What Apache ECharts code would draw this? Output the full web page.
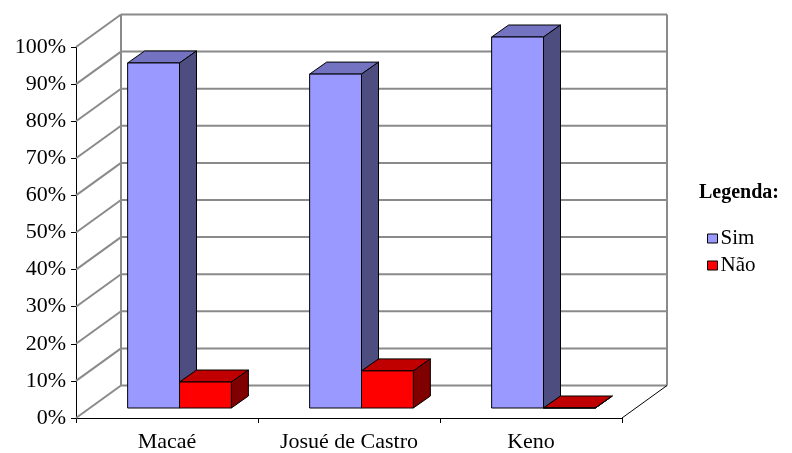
<!DOCTYPE html>
<html>
<head>
<meta charset="utf-8">
<script src="https://cdn.jsdelivr.net/npm/echarts@6/dist/echarts.min.js"></script>
<style>
  html, body { margin: 0; padding: 0; background: #fff; }
  #chart { width: 792px; height: 453px; }
</style>
</head>
<body>
<div id="chart"></div>
<script>
// Survey answers per location (percent)
const categories = ['Macaé', 'Josué de Castro', 'Keno'];
const simValues = [93, 90, 100];
const naoValues = [7, 10, 0];
const yTicks = [0, 10, 20, 30, 40, 50, 60, 70, 80, 90, 100];
const seriesNames = ['Sim', 'Não'];

// Pseudo-3D geometry (pixels)
const WALL_DX = 45, WALL_DY = -32.5;   // depth of floor / side wall
const BAR_DX = 12.5, BAR_DY = -10;     // where the bar fronts sit in depth
const DEPTH_DX = 17, DEPTH_DY = -12;   // bar thickness in depth
const BAR_FRAC = 0.285;                // bar width as share of a category band

const FONT = "'Liberation Serif', 'Times New Roman', serif";

const palette = {
  'Sim': { front: '#9999FF', top: '#7373C2', side: '#4D4D80' },
  'Não': { front: '#FF0000', top: '#C00000', side: '#800000' }
};

const chart = echarts.init(document.getElementById('chart'), null, { renderer: 'canvas' });

function renderWalls(params, api) {
  const cs = params.coordSys;
  const v = api.value(0);
  const y = api.coord([0, v])[1];
  const x0 = cs.x, x1 = cs.x + cs.width;
  const grey = { stroke: '#8a8a8a', lineWidth: 2, fill: null };
  const children = [
    { type: 'line', shape: { x1: x0, y1: y, x2: x0 + WALL_DX, y2: y + WALL_DY }, style: grey },
    { type: 'line', shape: { x1: x0 + WALL_DX, y1: y + WALL_DY, x2: x1 + WALL_DX, y2: y + WALL_DY }, style: grey }
  ];
  if (params.dataIndex === 0) {
    const yTop = api.coord([0, yTicks[yTicks.length - 1]])[1];
    children.push(
      { type: 'line', shape: { x1: x0 + WALL_DX, y1: yTop + WALL_DY, x2: x0 + WALL_DX, y2: y + WALL_DY }, style: grey },
      { type: 'line', shape: { x1: x1 + WALL_DX, y1: yTop + WALL_DY, x2: x1 + WALL_DX, y2: y + WALL_DY }, style: grey },
      { type: 'line', shape: { x1: x1, y1: y, x2: x1 + WALL_DX, y2: y + WALL_DY }, style: { stroke: '#000', lineWidth: 1 } }
    );
  }
  return { type: 'group', children: children };
}

function makeBarRenderer(name, side) {
  const c = palette[name];
  return function (params, api) {
    const idx = api.value(0);
    const val = api.value(1);
    const center = api.coord([idx, 0])[0];
    const band = api.size([1, 0])[0];
    const w = band * BAR_FRAC;
    const xl = (side < 0 ? center - w : center) + BAR_DX;
    const xr = xl + w;
    const yb = api.coord([idx, 0])[1] + BAR_DY;
    const yt = api.coord([idx, val])[1] + BAR_DY;
    const edge = { stroke: '#000', lineWidth: 1 };
    return {
      type: 'group',
      children: [
        { type: 'polygon', shape: { points: [[xl, yt], [xr, yt], [xr + DEPTH_DX, yt + DEPTH_DY], [xl + DEPTH_DX, yt + DEPTH_DY]] },
          style: Object.assign({ fill: c.top }, edge) },
        { type: 'polygon', shape: { points: [[xr, yt], [xr, yb], [xr + DEPTH_DX, yb + DEPTH_DY], [xr + DEPTH_DX, yt + DEPTH_DY]] },
          style: Object.assign({ fill: c.side }, edge) },
        { type: 'rect', shape: { x: xl, y: yt, width: w, height: yb - yt },
          style: Object.assign({ fill: c.front }, edge) }
      ]
    };
  };
}

const option = {
  animation: false,
  backgroundColor: '#ffffff',
  title: {
    text: 'Legenda:',
    left: 699,
    top: 183,
    padding: 0,
    textStyle: { fontFamily: FONT, fontSize: 20, fontWeight: 'bold', color: '#000' }
  },
  legend: {
    data: seriesNames,
    orient: 'vertical',
    left: 707,
    top: 228,
    padding: 0,
    itemWidth: 10,
    itemHeight: 9,
    itemGap: 6,
    icon: 'rect',
    itemStyle: { borderColor: '#000', borderWidth: 1 },
    textStyle: { fontFamily: FONT, fontSize: 21, lineHeight: 21, color: '#000', padding: [0, 0, 0, -2] }
  },
  grid: { left: 76, right: 170, top: 47, bottom: 34 },
  xAxis: {
    type: 'category',
    data: categories,
    axisLine: { lineStyle: { color: '#000', width: 1 } },
    axisTick: { show: true, length: 5, lineStyle: { color: '#000' } },
    axisLabel: { fontFamily: FONT, fontSize: 22, color: '#000', margin: 13 },
    splitLine: { show: false }
  },
  yAxis: {
    type: 'value',
    min: 0,
    max: 100,
    interval: 10,
    axisLine: { show: true, lineStyle: { color: '#000', width: 1 } },
    axisTick: { show: true, length: 5, lineStyle: { color: '#000' } },
    axisLabel: { fontFamily: FONT, fontSize: 22, color: '#000', margin: 10, formatter: '{value}%' },
    splitLine: { show: false }
  },
  series: [
    {
      type: 'custom',
      name: 'walls',
      renderItem: renderWalls,
      data: yTicks.map(function (v) { return [v]; }),
      encode: { y: 0 },
      clip: false,
      silent: true,
      z: 1
    },
    {
      type: 'custom',
      name: 'Sim',
      itemStyle: { color: palette['Sim'].front },
      renderItem: makeBarRenderer('Sim', -1),
      data: simValues.map(function (v, i) { return [i, v]; }),
      encode: { x: 0, y: 1 },
      clip: false,
      z: 2
    },
    {
      type: 'custom',
      name: 'Não',
      itemStyle: { color: palette['Não'].front },
      renderItem: makeBarRenderer('Não', 1),
      data: naoValues.map(function (v, i) { return [i, v]; }),
      encode: { x: 0, y: 1 },
      clip: false,
      z: 3
    }
  ]
};

chart.setOption(option);
</script>
</body>
</html>
